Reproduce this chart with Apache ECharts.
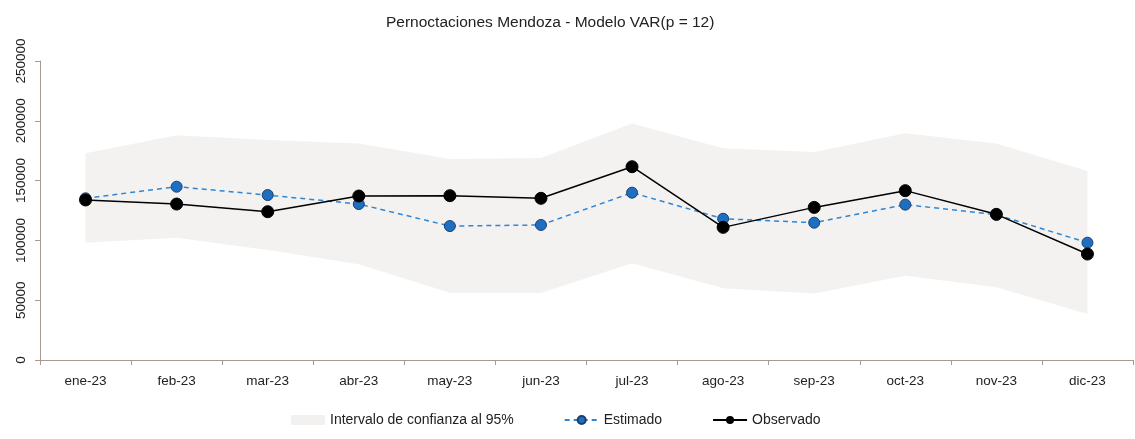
<!DOCTYPE html>
<html>
<head>
<meta charset="utf-8">
<script src="https://cdn.jsdelivr.net/npm/echarts@6/dist/echarts.min.js"></script>
<style>
  html, body { margin: 0; padding: 0; background: #fff; }
  #chart { width: 1135px; height: 439px; }
</style>
</head>
<body>
<div id="chart"></div>
<script>
// meses
var months = ['ene-23', 'feb-23', 'mar-23', 'abr-23', 'may-23', 'jun-23',
              'jul-23', 'ago-23', 'sep-23', 'oct-23', 'nov-23', 'dic-23'];
var observado = [133800, 130400, 124000, 137100, 137400, 135200,
                 161600, 110900, 127600, 141600, 121800, 88600];
var estimado = [135200, 144900, 137900, 130400, 112000, 112900,
                139900, 118100, 114800, 129900, 121500, 98100];
var icInf = [98000, 102300, 92000, 80000, 56300, 56000,
             80800, 60000, 55700, 70500, 60800, 38500];
var icSup = [172800, 188000, 184000, 181000, 168000, 169000,
             197800, 177000, 174000, 189500, 181000, 158000];
var yTicks = [0, 50000, 100000, 150000, 200000, 250000];

var anchoBanda = icSup.map(function (v, i) { return v - icInf[i]; });

var chart = echarts.init(document.getElementById('chart'));
chart.setOption({
    animation: false,
    textStyle: { fontFamily: 'Liberation Sans, Arial, sans-serif' },
    title: {
        text: 'Pernoctaciones Mendoza - Modelo VAR(p = 12)',
        left: 381,
        top: 10,
        textStyle: { fontSize: 15.5, fontWeight: 'normal', color: '#222' }
    },
    legend: {
        bottom: 7,
        left: 286,
        itemGap: 50,
        itemWidth: 34,
        itemHeight: 10,
        textStyle: { fontSize: 14, color: '#222' },
        data: [
            { name: 'Intervalo de confianza al 95%', icon: 'rect', itemStyle: { color: '#f2f1f0' } },
            { name: 'Estimado' },
            { name: 'Observado' }
        ]
    },
    grid: { left: 40, right: 2, top: 61, bottom: 79, containLabel: false },
    xAxis: {
        type: 'category',
        data: months,
        boundaryGap: true,
        axisLine: { lineStyle: { color: '#a89a90' } },
        axisTick: { show: true, lineStyle: { color: '#a89a90' }, length: 5 },
        axisLabel: { fontSize: 13.5, color: '#222', margin: 14 }
    },
    yAxis: {
        type: 'value',
        min: yTicks[0],
        max: yTicks[yTicks.length - 1],
        interval: 50000,
        axisLine: { show: true, lineStyle: { color: '#a89a90' } },
        axisTick: { show: true, lineStyle: { color: '#a89a90' }, length: 5 },
        splitLine: { show: false },
        axisLabel: {
            fontSize: 13.5, color: '#222', rotate: 90, margin: 12,
            formatter: function (v) { return String(v); }
        }
    },
    series: [
        {
            name: 'inf',
            type: 'line',
            stack: 'ic',
            data: icInf,
            symbol: 'none',
            lineStyle: { opacity: 0 },
            silent: true
        },
        {
            name: 'Intervalo de confianza al 95%',
            type: 'line',
            stack: 'ic',
            data: anchoBanda,
            symbol: 'none',
            lineStyle: { opacity: 0 },
            areaStyle: { color: '#f3f2f1', opacity: 1 },
            itemStyle: { color: '#f2f1f0' },
            silent: true
        },
        {
            name: 'Estimado',
            type: 'line',
            data: estimado,
            symbol: 'circle',
            symbolSize: 11,
            lineStyle: { color: '#2f86d3', width: 1.5, type: [5, 4] },
            itemStyle: { color: '#1f6fc0', borderColor: '#1b3f70', borderWidth: 1 },
            z: 3
        },
        {
            name: 'Observado',
            type: 'line',
            data: observado,
            symbol: 'circle',
            symbolSize: 12,
            lineStyle: { color: '#000', width: 1.5 },
            itemStyle: { color: '#000', borderColor: '#000' },
            z: 4
        }
    ]
});
</script>
</body>
</html>
